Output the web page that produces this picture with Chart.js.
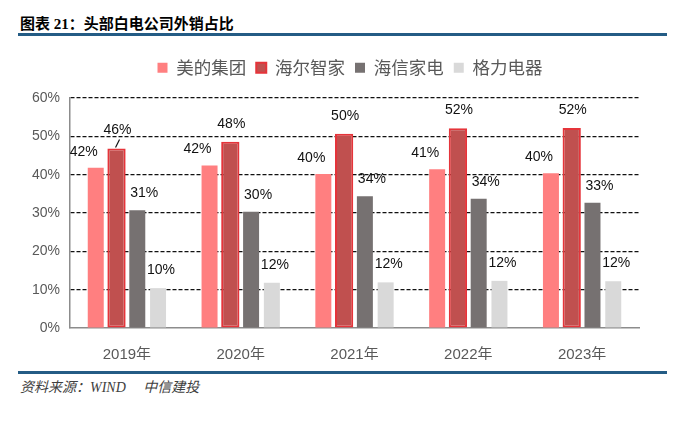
<!DOCTYPE html>
<html>
<head>
<meta charset="utf-8">
<script src="https://cdn.jsdelivr.net/npm/chart.js@4"></script>
<style>
  html, body { margin: 0; padding: 0; background: #fff; }
  body { width: 700px; height: 426px; position: relative; overflow: hidden; }
  .title {
    position: absolute; left: 20px; top: 12px;
    font: bold 15px "Liberation Serif", "Noto Sans CJK SC", serif;
    color: #000; white-space: nowrap;
  }
  .rule { position: absolute; left: 18px; width: 649px; height: 2.5px; background: #245c85; }
  .source {
    position: absolute; left: 20px; top: 376px;
    font: italic 14px "Liberation Serif", "Noto Sans CJK SC", serif;
    color: #404040; white-space: nowrap;
  }
  #chart { position: absolute; left: 0; top: 40px; }
</style>
</head>
<body>
<div class="title">图表 21：头部白电公司外销占比</div>
<div class="rule" style="top:33px"></div>
<canvas id="chart" width="700" height="320"></canvas>
<div class="rule" style="top:371px"></div>
<div class="source">资料来源：WIND　 中信建投</div>

<script>
"use strict";

// data
const years = ['2019年', '2020年', '2021年', '2022年', '2023年'];
const seriesNames = ['美的集团', '海尔智家', '海信家电', '格力电器'];

const midea = [41.8, 42.4, 40.2, 41.4, 40.4];
const haier = [46.8, 48.6, 50.7, 52.1, 52.2];
const hisense = [30.7, 30.3, 34.4, 33.7, 32.7];
const gree = [10.4, 11.8, 11.9, 12.3, 12.2];

// labels as printed on the chart
const mideaText = ['42%', '42%', '40%', '41%', '40%'];
const haierText = ['46%', '48%', '50%', '52%', '52%'];
const hisenseText = ['31%', '30%', '34%', '34%', '33%'];
const greeText = ['10%', '12%', '12%', '12%', '12%'];
const haierLeader = [true, false, false, false, false];

const yTicks = [0, 10, 20, 30, 40, 50, 60];

// label placement per series (relative to bar top)
const labelOffsets = [
  { dx: -12, dy: 16 },
  { dx: 1, dy: 18 },
  { dx: 7, dy: 17 },
  { dx: 3, dy: 18 }
];

const valueLabels = {
  id: 'valueLabels',
  afterDatasetsDraw(chart) {
    const ctx = chart.ctx;
    ctx.save();
    ctx.font = '14px "Liberation Sans", Arial, sans-serif';
    ctx.fillStyle = '#111';
    ctx.textAlign = 'center';
    ctx.textBaseline = 'middle';
    chart.data.datasets.forEach((ds, i) => {
      const off = labelOffsets[i];
      chart.getDatasetMeta(i).data.forEach((bar, j) => {
        ctx.fillText(ds.valueText[j], bar.x + off.dx, bar.y - off.dy);
        if (ds.leader && ds.leader[j]) {
          ctx.strokeStyle = '#111';
          ctx.lineWidth = 1.2;
          ctx.beginPath();
          ctx.moveTo(bar.x - 1, bar.y - 1);
          ctx.lineTo(bar.x + 3, bar.y - 9);
          ctx.stroke();
        }
      });
    });
    ctx.restore();
  }
};

// room between the legend and the plot
const legendGap = {
  id: 'legendGap',
  afterInit(chart) {
    const fit = chart.legend.fit;
    chart.legend.fit = function () {
      fit.call(this);
      this.height = 49;
    };
  }
};

const ctx = document.getElementById('chart').getContext('2d');

new Chart(ctx, {
  type: 'bar',
  data: {
    labels: years,
    datasets: [
      {
        label: seriesNames[0],
        data: midea,
        valueText: mideaText,
        backgroundColor: '#ff7f80',
        borderWidth: 0
      },
      {
        label: seriesNames[1],
        data: haier,
        valueText: haierText,
        leader: haierLeader,
        backgroundColor: '#c0504f',
        borderColor: '#e5343a',
        borderWidth: 2,
        borderSkipped: false,
        barPercentage: 0.88
      },
      {
        label: seriesNames[2],
        data: hisense,
        valueText: hisenseText,
        backgroundColor: '#767171',
        borderWidth: 0
      },
      {
        label: seriesNames[3],
        data: gree,
        valueText: greeText,
        backgroundColor: '#d9d9d9',
        borderWidth: 0
      }
    ]
  },
  options: {
    responsive: false,
    animation: false,
    layout: { padding: { top: 9, left: 0, right: 0, bottom: 0 } },
    datasets: {
      bar: { barPercentage: 0.77, categoryPercentage: 0.73 }
    },
    plugins: {
      legend: {
        position: 'top',
        labels: {
          boxWidth: 10,
          boxHeight: 10,
          padding: 10,
          color: '#595959',
          font: { family: '"Noto Sans CJK SC", sans-serif', size: 17.5 }
        }
      },
      tooltip: { enabled: false }
    },
    scales: {
      x: {
        grid: { display: false },
        border: { display: true, color: '#8c8c8c', width: 1.5 },
        ticks: {
          color: '#595959',
          padding: 10,
          font: { family: '"Liberation Sans", "Noto Sans CJK SC", sans-serif', size: 15 }
        },
        afterFit(scale) { scale.height = 32; }
      },
      y: {
        min: 0,
        max: 60,
        afterBuildTicks(scale) {
          scale.ticks = yTicks.map(v => ({ value: v }));
        },
        grid: {
          color: c => (c.tick && c.tick.value === 0 ? 'rgba(0,0,0,0)' : '#111'),
          lineWidth: 1.2,
          drawTicks: false
        },
        border: { display: true, color: '#8c8c8c', width: 1.5, dash: [4, 2] },
        ticks: {
          color: '#595959',
          padding: 10,
          font: { family: '"Liberation Sans", sans-serif', size: 14 },
          callback: v => v + '%'
        },
        afterFit(scale) { scale.width = 70; }
      },
      yRight: {
        position: 'right',
        display: true,
        grid: { display: false },
        border: { display: false },
        ticks: { display: false },
        afterFit(scale) { scale.width = 61; }
      }
    }
  },
  plugins: [valueLabels, legendGap]
});
</script>
</body>
</html>
